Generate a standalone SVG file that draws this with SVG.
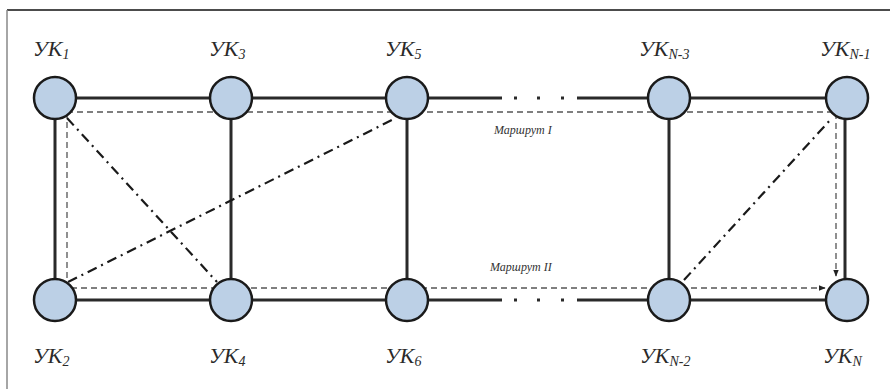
<svg xmlns="http://www.w3.org/2000/svg" width="890" height="389" viewBox="0 0 890 389">
<defs>
<style>
.node{fill:#bcd0e6;stroke:#1a1a1a;stroke-width:2.5}
.solid{stroke:#2a2a2a;stroke-width:3;fill:none}
.route{stroke:#555;stroke-width:1.3;stroke-dasharray:6 4;fill:none}
.dd{stroke:#1a1a1a;stroke-width:2.2;stroke-dasharray:10 5 2 5;fill:none}
.lbl{font-family:"Liberation Serif",serif;font-style:italic;font-size:22px;fill:#2a2a2a}
.sub{font-size:14px}
.rt{font-family:"Liberation Serif",serif;font-style:italic;font-size:12px;fill:#333}
</style>
<marker id="ah" viewBox="0 0 10 10" refX="9" refY="5" markerWidth="7" markerHeight="7" orient="auto" markerUnits="userSpaceOnUse">
<path d="M0,1 L10,5 L0,9 Z" fill="#222"/>
</marker>
</defs>
<rect width="890" height="389" fill="#fff"/>
<line x1="7" y1="10" x2="890" y2="10" stroke="#111" stroke-width="1.5"/>
<line x1="7" y1="10" x2="7" y2="389" stroke="#888" stroke-width="1.5"/>
<g id="connectors">
<path class="solid" d="M55,98 H502 M577,98 H847 M55,300 H502 M577,300 H847 M55,98 V300 M231,98 V300 M407,98 V300 M669,98 V300 M845,98 V300"/>
<g fill="#2a2a2a">
<rect x="514" y="96.5" width="3" height="3"/><rect x="537" y="96.5" width="3" height="3"/><rect x="561" y="96.5" width="3" height="3"/>
<rect x="514" y="298.5" width="3" height="3"/><rect x="537" y="298.5" width="3" height="3"/><rect x="561" y="298.5" width="3" height="3"/>
</g>
<path class="route" d="M67,112 H836 V276" marker-end="url(#ah)"/>
<path class="route" d="M67,112 V288 H825" marker-end="url(#ah)"/>
<line class="dd" x1="67" y1="118" x2="217" y2="282"/>
<line class="dd" x1="68" y1="282" x2="392" y2="120"/>
<line class="dd" x1="684" y1="280" x2="832" y2="118"/>
<text class="rt" x="494" y="134">Маршрут I</text>
<text class="rt" x="490" y="271">Маршрут II</text>
</g>
<g id="uk1"><circle class="node" cx="55" cy="98" r="21"/><text class="lbl" x="33" y="56">УК<tspan class="sub" dy="3">1</tspan></text></g>
<g id="uk3"><circle class="node" cx="231" cy="98" r="21"/><text class="lbl" x="209" y="56">УК<tspan class="sub" dy="3">3</tspan></text></g>
<g id="uk5"><circle class="node" cx="407" cy="98" r="21"/><text class="lbl" x="385" y="56">УК<tspan class="sub" dy="3">5</tspan></text></g>
<g id="ukn3"><circle class="node" cx="669" cy="98" r="21"/><text class="lbl" x="639" y="56">УК<tspan class="sub" dy="3">N-3</tspan></text></g>
<g id="ukn1"><circle class="node" cx="847" cy="98" r="21"/><text class="lbl" x="820" y="56">УК<tspan class="sub" dy="3">N-1</tspan></text></g>
<g id="uk2"><circle class="node" cx="55" cy="300" r="21"/><text class="lbl" x="33" y="363">УК<tspan class="sub" dy="3">2</tspan></text></g>
<g id="uk4"><circle class="node" cx="231" cy="300" r="21"/><text class="lbl" x="209" y="363">УК<tspan class="sub" dy="3">4</tspan></text></g>
<g id="uk6"><circle class="node" cx="407" cy="300" r="21"/><text class="lbl" x="385" y="363">УК<tspan class="sub" dy="3">6</tspan></text></g>
<g id="ukn2"><circle class="node" cx="669" cy="300" r="21"/><text class="lbl" x="640" y="363">УК<tspan class="sub" dy="3">N-2</tspan></text></g>
<g id="ukn"><circle class="node" cx="847" cy="300" r="21"/><text class="lbl" x="823" y="363">УК<tspan class="sub" dy="3">N</tspan></text></g>
</svg>
